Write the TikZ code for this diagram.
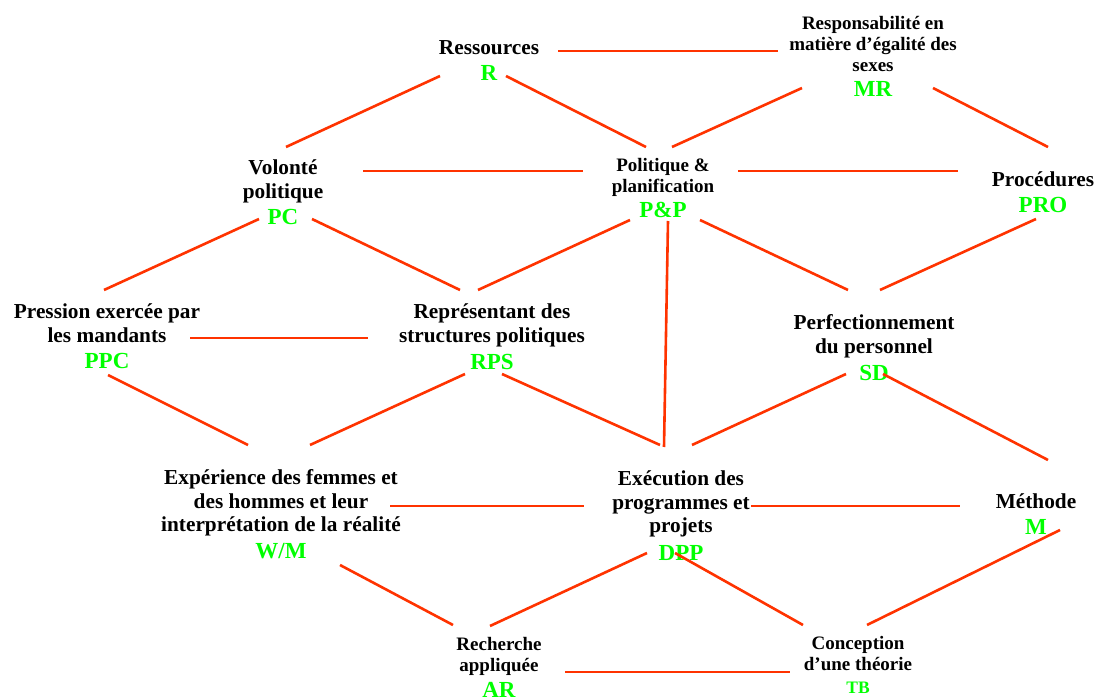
\documentclass[tikz,border=0pt]{standalone}
\usepackage{fontspec}
\setmainfont{Liberation Serif}
\usetikzlibrary{calc}

\definecolor{linkred}{RGB}{255,51,0}
\definecolor{abbrgreen}{RGB}{0,255,0}

\newcommand{\abbr}[1]{{\color{abbrgreen}\fontsize{23}{26}\selectfont #1}}
\newcommand{\linkto}[4]{\draw[link] ($(#1.base)+(#2)$) -- ($(#3.base)+(#4)$);}

\tikzset{
  topic/.style={align=center, anchor=base, inner sep=0pt, font=\bfseries\fontsize{21.3}{23.5}\selectfont},
  smalltopic/.style={topic, font=\bfseries\fontsize{19}{21}\selectfont},
  link/.style={draw=linkred, line width=2.6pt},
}

\begin{document}
\begin{tikzpicture}[x=1pt, y=-1pt]
\useasboundingbox (0,0) rectangle (1109,700);

% top row
\node[topic] (R) at (489,81) {Ressources\\[2.5pt]\abbr{R}};
\node[smalltopic] (MR) at (873,97) {Responsabilité en\\matière d’égalité des\\sexes\\[4pt]\abbr{MR}};
% second row
\node[topic] (PC) at (283,225) {Volonté\\politique\\[3pt]\abbr{PC}};
\node[smalltopic] (PP) at (663,218) {Politique \&\\planification\\[4pt]\abbr{P\&P}};
\node[topic] (PRO) at (1043,213) {Procédures\\[2.5pt]\abbr{PRO}};
% third row
\node[topic] (PPC) at (107,369) {Pression exercée par\\les mandants\\[3pt]\abbr{PPC}};
\node[topic] (RPS) at (492,370) {Représentant des\\structures politiques\\[4pt]\abbr{RPS}};
\node[topic] (SD) at (874,381) {Perfectionnement\\du personnel\\[4pt]\abbr{SD}};
% fourth row
\node[topic] (WM) at (281,558) {Expérience des femmes et\\des hommes et leur\\interprétation de la réalité\\[3pt]\abbr{W/M}};
\node[topic] (DPP) at (681,560) {Exécution des\\programmes et\\projets\\[4pt]\abbr{DPP}};
\node[topic] (M) at (1036,534) {Méthode\\[2.5pt]\abbr{M}};
% bottom row
\node[smalltopic] (AR) at (499,697) {Recherche\\appliquée\\[5pt]\abbr{AR}};
\node[smalltopic] (TB) at (858,693) {Conception\\d’une théorie\\[2pt]{\color{abbrgreen}\fontsize{17.5}{20}\selectfont TB}};

% links
\linkto{R}{69,-30}{MR}{-95,-46}
\linkto{R}{-49,-5}{PC}{3,-78}
\linkto{R}{17,-5}{PP}{-17,-71}
\linkto{MR}{-71,-9}{PP}{9,-71}
\linkto{MR}{60,-9}{PRO}{5,-66}
\linkto{PC}{80,-54}{PP}{-80,-47}
\linkto{PP}{75,-47}{PRO}{-85,-42}
\linkto{PC}{-24,-6}{PPC}{-3,-79}
\linkto{PC}{29,-6}{RPS}{-32,-80}
\linkto{PP}{-33,2}{RPS}{-14,-80}
\linkto{PP}{5,3}{DPP}{-17,-113}
\linkto{PP}{37,2}{SD}{-26,-91}
\linkto{PRO}{-7,6}{SD}{6,-91}
\linkto{PPC}{83,-31}{RPS}{-124,-32}
\linkto{PPC}{1,6}{WM}{-33,-113}
\linkto{RPS}{-27,4}{WM}{29,-113}
\linkto{RPS}{10,4}{DPP}{-21,-115}
\linkto{SD}{-28,-7}{DPP}{11,-115}
\linkto{SD}{9,-7}{M}{12,-74}
\linkto{WM}{109,-52}{DPP}{-97,-54}
\linkto{DPP}{70,-54}{M}{-76,-28}
\linkto{WM}{59,7}{AR}{-46,-72}
\linkto{DPP}{-34,-7}{AR}{-9,-71}
\linkto{DPP}{-6,-7}{TB}{-55,-68}
\linkto{M}{24,-4}{TB}{9,-68}
\linkto{AR}{66,-25}{TB}{-68,-21}
\end{tikzpicture}
\end{document}
